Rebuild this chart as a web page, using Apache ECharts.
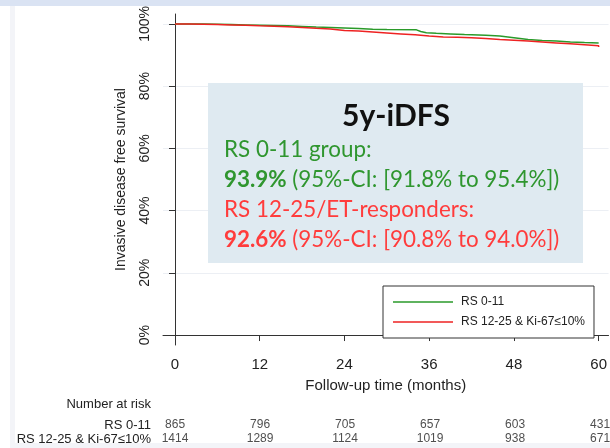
<!DOCTYPE html>
<html>
<head>
<meta charset="utf-8">
<script src="https://cdn.jsdelivr.net/npm/echarts@6/dist/echarts.min.js"></script>
<style>
  html, body { margin: 0; padding: 0; background: #ffffff; }
  #chart { width: 610px; height: 448px; }
</style>
</head>
<body>
<div id="chart"></div>
<script>
// Kaplan-Meier estimates of invasive disease free survival (%), by follow-up month
const groupNames = ['RS 0-11', 'RS 12-25 & Ki-67\u226410%'];
const groupLongNames = ['RS 0-11 group:', 'RS 12-25/ET-responders:'];

const monthsLow = [0, 2, 4, 6, 8, 10, 12, 14, 16, 18, 20, 22, 24, 26, 28, 30, 34.2, 34.8, 35.6, 37, 39, 41, 44, 46, 48, 50, 52, 54, 56, 58, 60];
const survLow   = [100, 100, 99.9, 99.8, 99.7, 99.6, 99.5, 99.4, 99.2, 99.0, 98.9, 98.7, 98.5, 98.3, 98.2, 98.1, 97.6, 97.2, 97.0, 96.8, 96.6, 96.4, 96.1, 95.6, 95.0, 94.7, 94.5, 94.2, 94.0, 93.9, 93.9];

const monthsMid = [0, 2, 4, 6, 8, 10, 12, 14, 16, 18, 20, 22, 24, 26, 28, 30, 32, 34, 36, 38, 40, 42, 44, 46, 48, 50, 52, 54, 56, 58, 60];
const survMid   = [100, 99.9, 99.8, 99.7, 99.6, 99.4, 99.3, 99.1, 98.9, 98.6, 98.4, 97.9, 97.7, 97.4, 97.1, 96.8, 96.5, 96.1, 95.8, 95.7, 95.6, 95.3, 95.0, 94.8, 94.5, 94.2, 93.9, 93.6, 93.3, 93.0, 92.6];

// 95% confidence interval of the 5-year estimate
const ciLow = [91.8, 95.4];
const ciMid = [90.8, 94.0];

// Number at risk table
const riskMonths = [0, 12, 24, 36, 48, 60];
const riskLow = [865, 796, 705, 657, 603, 431];
const riskMid = [1414, 1289, 1124, 1019, 938, 671];

const xTicks = [0, 12, 24, 36, 48, 60];
const yTicks = [0, 20, 40, 60, 80, 100];

const GREEN = '#2a9a2a';
const RED = '#ee2222';
const TXT_GREEN = '#2f962f';
const TXT_RED = '#ff3c3c';

const X_MIN = -1.7, X_MAX = 61.4;

function pairs(xs, ys) { return xs.map((x, i) => [x, ys[i]]); }
function fmt(v) { return v.toFixed(1) + '%'; }

const riskData = [];
riskMonths.forEach((m, i) => {
  riskData.push([m, groupNames[0], riskLow[i]]);
  riskData.push([m, groupNames[1], riskMid[i]]);
});

const fiveYrLow = survLow[survLow.length - 1];
const fiveYrMid = survMid[survMid.length - 1];

const chart = echarts.init(document.getElementById('chart'), null, { renderer: 'canvas' });

const axisFont = 'Liberation Sans, Arial, sans-serif';
const boxFont = 'Lato, "Open Sans", sans-serif';
const BOX_Z = 100;

chart.setOption({
  animation: false,
  backgroundColor: '#ffffff',
  textStyle: { fontFamily: axisFont },
  grid: [
    { left: 163, right: 0, top: 14, bottom: 103 },
    { left: 163, right: 0, top: 418, height: 28 }
  ],
  xAxis: [
    {
      gridIndex: 0, type: 'value', min: X_MIN, max: X_MAX,
      name: 'Follow-up time (months)', nameLocation: 'middle', nameGap: 33,
      nameTextStyle: { fontSize: 15, color: '#222', fontFamily: axisFont },
      axisLine: { show: true, lineStyle: { color: '#333', width: 1 } },
      axisTick: { show: true, length: 6, customValues: xTicks, lineStyle: { color: '#333' } },
      axisLabel: { customValues: xTicks, fontSize: 15, color: '#222', margin: 12, fontFamily: axisFont },
      splitLine: { show: false }
    },
    {
      gridIndex: 1, type: 'value', min: X_MIN, max: X_MAX,
      axisLine: { show: false }, axisTick: { show: false }, axisLabel: { show: false }, splitLine: { show: false }
    }
  ],
  yAxis: [
    {
      gridIndex: 0, type: 'value', min: -3.2, max: 103.2,
      name: 'Invasive disease free survival', nameLocation: 'middle', nameGap: 35, nameRotate: 90,
      nameTextStyle: { fontSize: 14, color: '#222', fontFamily: axisFont },
      axisLine: { show: true, lineStyle: { color: '#333', width: 1 } },
      axisTick: { show: true, length: 6, customValues: yTicks, lineStyle: { color: '#333' } },
      axisLabel: {
        customValues: yTicks, rotate: 90, fontSize: 14, color: '#222', margin: 11,
        fontFamily: axisFont, formatter: v => v + '%'
      },
      splitLine: { show: true, lineStyle: { color: '#eceff4', width: 1 } }
    },
    {
      gridIndex: 1, type: 'category', data: groupNames, inverse: true,
      axisLine: { show: false }, axisTick: { show: false }, splitLine: { show: false },
      axisLabel: { interval: 0, fontSize: 13, color: '#222', margin: 12, fontFamily: axisFont }
    }
  ],
  legend: {
    orient: 'vertical', left: 383, top: 286,
    data: groupNames.map(n => ({ name: n, icon: 'rect' })),
    itemWidth: 60, itemHeight: 1.6, itemGap: 6,
    padding: [9, 9, 9, 10],
    borderColor: '#333', borderWidth: 1, borderRadius: 0,
    backgroundColor: '#ffffff',
    textStyle: { fontSize: 12, lineHeight: 14, color: '#222', fontFamily: axisFont, padding: [0, 0, 0, 3] }
  },
  series: [
    {
      name: groupNames[0], type: 'line', step: 'end', xAxisIndex: 0, yAxisIndex: 0,
      data: pairs(monthsLow, survLow), showSymbol: false, symbol: 'none',
      lineStyle: { color: GREEN, width: 1.5 }, itemStyle: { color: GREEN }, z: 3
    },
    {
      name: groupNames[1], type: 'line', step: 'end', xAxisIndex: 0, yAxisIndex: 0,
      data: pairs(monthsMid, survMid), showSymbol: false, symbol: 'none',
      lineStyle: { color: RED, width: 1.5 }, itemStyle: { color: RED }, z: 3
    },
    {
      name: 'risk', type: 'scatter', xAxisIndex: 1, yAxisIndex: 1,
      data: riskData, symbolSize: 1, itemStyle: { color: 'transparent' },
      label: {
        show: true, position: 'inside', formatter: p => String(p.value[2]),
        fontSize: 12, color: '#222', fontFamily: axisFont
      },
      silent: true
    }
  ],
  graphic: [
    // page framing strips
    { type: 'rect', left: 0, top: 0, shape: { width: 610, height: 6 }, style: { fill: '#dae3f3' }, z: -1 },
    { type: 'rect', left: 10, top: 6, shape: { width: 5, height: 442 }, style: { fill: '#f3f4f8' }, z: -1 },
    { type: 'rect', left: 10, top: 443, shape: { width: 600, height: 5 }, style: { fill: '#f3f4f8' }, z: -1 },
    // risk table heading
    {
      type: 'text', right: 610 - 151, top: 398,
      style: { text: 'Number at risk', font: '13px ' + axisFont, fill: '#222', textAlign: 'right' }
    },
    // summary box
    { type: 'rect', z: BOX_Z, shape: { x: 208, y: 83, width: 375, height: 180 }, style: { fill: '#dfeaf1' } },
    {
      type: 'text', z: BOX_Z + 1, x: 396, y: 116,
      style: { text: '5y-iDFS', font: 'bold 30px ' + boxFont, fill: '#111', textAlign: 'center', textVerticalAlign: 'middle' }
    },
    {
      type: 'text', z: BOX_Z + 1, x: 224, y: 150,
      style: { text: groupLongNames[0], font: '22.4px ' + boxFont, fill: TXT_GREEN, textVerticalAlign: 'middle' }
    },
    {
      type: 'text', z: BOX_Z + 1, x: 224, y: 180,
      style: {
        text: '{b|' + fmt(fiveYrLow) + '} (95%-CI: [' + fmt(ciLow[0]) + ' to ' + fmt(ciLow[1]) + '])',
        font: '22.4px ' + boxFont, fill: TXT_GREEN, textVerticalAlign: 'middle',
        rich: { b: { fontWeight: 'bold', fontSize: 22.4, fontFamily: boxFont, fill: TXT_GREEN, color: TXT_GREEN } }
      }
    },
    {
      type: 'text', z: BOX_Z + 1, x: 224, y: 210,
      style: { text: groupLongNames[1], font: '22.4px ' + boxFont, fill: TXT_RED, textVerticalAlign: 'middle' }
    },
    {
      type: 'text', z: BOX_Z + 1, x: 224, y: 240,
      style: {
        text: '{b|' + fmt(fiveYrMid) + '} (95%-CI: [' + fmt(ciMid[0]) + ' to ' + fmt(ciMid[1]) + '])',
        font: '22.4px ' + boxFont, fill: TXT_RED, textVerticalAlign: 'middle',
        rich: { b: { fontWeight: 'bold', fontSize: 22.4, fontFamily: boxFont, fill: TXT_RED, color: TXT_RED } }
      }
    }
  ]
});
</script>
</body>
</html>
